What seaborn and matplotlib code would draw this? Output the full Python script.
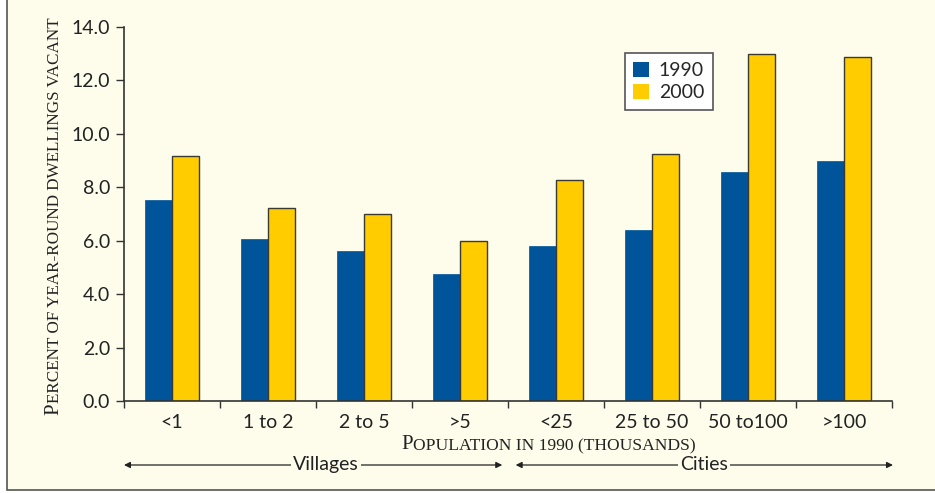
import pandas as pd
import numpy as np
import matplotlib
matplotlib.use('Agg')
import matplotlib.pyplot as plt
import matplotlib.patches as mpatches
import matplotlib.transforms as mtransforms
from matplotlib.text import Annotation
import seaborn as sns

categories = ["<1", "1 to 2", "2 to 5", ">5", "<25", "25 to 50", "50 to100", ">100"]
vacant_1990 = [7.52, 6.07, 5.62, 4.76, 5.80, 6.40, 8.57, 8.99]
vacant_2000 = [9.17, 7.23, 7.00, 5.99, 8.27, 9.25, 12.98, 12.89]
years = ["1990", "2000"]
y_ticks = [0.0, 2.0, 4.0, 6.0, 8.0, 10.0, 12.0, 14.0]

BG = "#FEFCEB"
BLUE = "#005499"
YELLOW = "#FFCC00"
DARK = "#333333"
TXT = "#222222"

df = pd.DataFrame({
    "category": categories * 2,
    "year": [years[0]] * len(categories) + [years[1]] * len(categories),
    "value": vacant_1990 + vacant_2000,
})

sns.set_style("white")
plt.rcParams['font.family'] = ['Lato', 'DejaVu Sans']

W, H = 935, 493
fig = plt.figure(figsize=(W / 100, H / 100), dpi=100, facecolor="white")
# cream panel with a thin border, behind the axes
fig.patches.append(mpatches.Rectangle((7 / W, 3 / H), 1.2, 1.2, transform=fig.transFigure,
                                      facecolor=BG, edgecolor="#555555", linewidth=1.2, zorder=-5))

ax = fig.add_axes([124 / W, 1 - 401 / H, 768 / W, 374 / H])
ax.set_facecolor(BG)

sns.barplot(data=df, x="category", y="value", hue="year", order=categories,
            palette=[BLUE, YELLOW], width=0.57, saturation=1, errorbar=None, ax=ax)

for cont, col in zip(ax.containers, [BLUE, YELLOW]):
    for p in cont:
        if col == YELLOW:
            p.set_edgecolor("#3a3a30")
            p.set_linewidth(1.0)
        else:
            p.set_edgecolor(BLUE)
            p.set_linewidth(0.5)

ax.set_ylim(0, 14)
ax.set_xlim(-0.5, len(categories) - 0.5)
ax.set_yticks(y_ticks)
ax.set_yticklabels([f"{t:.1f}" for t in y_ticks], fontsize=14, color=TXT)
ax.set_xticks(range(len(categories)))
ax.set_xticklabels(categories, fontsize=14, color=TXT)
ax.set_xticks(np.arange(len(categories) + 1) - 0.5, minor=True)
ax.tick_params(axis="x", which="major", bottom=False, length=0, pad=9)
ax.tick_params(axis="x", which="minor", bottom=True, length=5, width=1, color=DARK, direction="out")
ax.tick_params(axis="y", left=True, length=6, width=1, color=DARK, direction="out", pad=4)

sns.despine(ax=ax)
for s in ["left", "bottom"]:
    ax.spines[s].set_color(DARK)
    ax.spines[s].set_linewidth(1.2)
ax.set_xlabel("")
ax.set_ylabel("")

# small-caps style axis titles: big first letter, smaller capitals after it
serif = "Liberation Serif"
t1 = fig.text(401 / W, 1 - 454 / H, "P", family=serif, fontsize=15, color=TXT,
              ha="left", va="bottom")
fig.texts.append(Annotation(
    "OPULATION IN 1990 (THOUSANDS)", xy=(1, 0), xycoords=t1, family=serif, fontsize=12.6,
    color=TXT, ha="left", va="bottom", figure=fig))
t2 = fig.text(63 / W, 1 - 415 / H, "P", family=serif, fontsize=15, color=TXT,
              ha="left", va="bottom", rotation=90, rotation_mode="anchor")
fig.texts.append(Annotation(
    "ERCENT OF YEAR-ROUND DWELLINGS VACANT", xy=(1, 1), xycoords=t2, family=serif,
    fontsize=12.3, color=TXT, ha="left", va="bottom", rotation=90, rotation_mode="anchor",
    figure=fig))

handles = [mpatches.Rectangle((0, 0), 1, 1, facecolor=c, edgecolor="none") for c in [BLUE, YELLOW]]
leg = ax.legend(handles, years, loc="upper left", bbox_to_anchor=(0.652, 0.93), fontsize=14,
                frameon=True, fancybox=False, facecolor="white", edgecolor="#555555",
                handlelength=0.8, handleheight=0.8, handletextpad=0.5, borderpad=0.45,
                labelspacing=0.25, borderaxespad=0)
leg.get_frame().set_linewidth(1.2)
leg.get_frame().set_alpha(1)

# group brackets below the axis
trans = mtransforms.blended_transform_factory(ax.transData, ax.transAxes)
ybr = -(465 - 401) / 374
for lo, hi, label, xc in [(-0.5, 3.44, "Villages", 1.6), (3.58, 7.51, "Cities", 5.54)]:
    ax.annotate("", xy=(lo, ybr), xytext=(hi, ybr), xycoords=trans, textcoords=trans,
                arrowprops=dict(arrowstyle="<|-|>", color=TXT, lw=0.9,
                                mutation_scale=9, shrinkA=0, shrinkB=0),
                annotation_clip=False)
    ax.text(xc, ybr, label, transform=trans, ha="center", va="center", fontsize=14,
            color=TXT, bbox=dict(facecolor=BG, edgecolor="none", pad=1.5))

fig.savefig("out.png", dpi=100, facecolor=fig.get_facecolor())
